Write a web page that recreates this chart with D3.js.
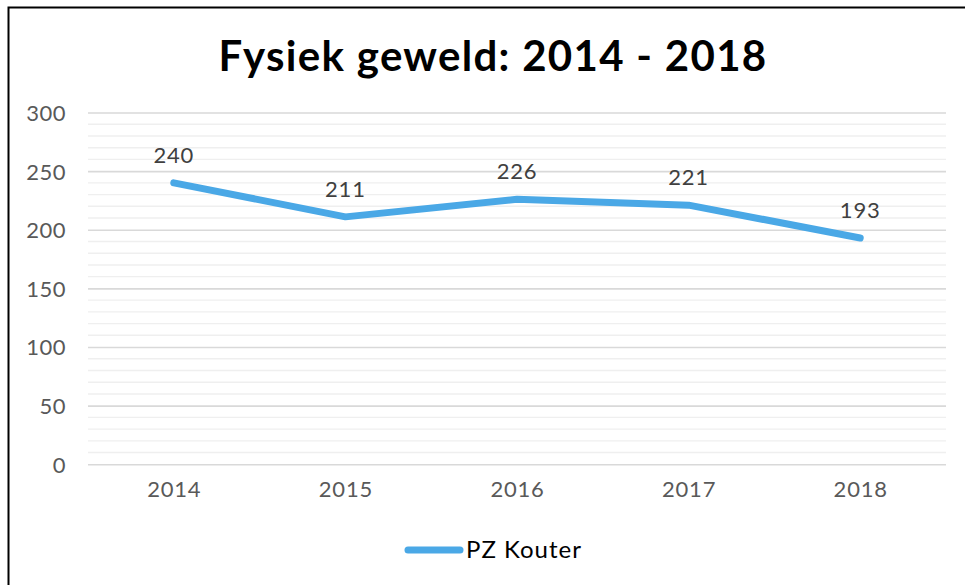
<!DOCTYPE html>
<html>
<head>
<meta charset="utf-8">
<script src="https://cdn.jsdelivr.net/npm/d3@7"></script>
<style>
  body { margin: 0; background: #fff; }
  text { font-family: "Lato", "DejaVu Sans", sans-serif; }
</style>
</head>
<body>
<div id="chart"></div>
<script>
var years = ["2014", "2015", "2016", "2017", "2018"]
var values = [240, 211, 226, 221, 193]
var yTicks = [0, 50, 100, 150, 200, 250, 300]
var seriesName = "PZ Kouter"
var title = "Fysiek geweld: 2014 - 2018"

var W = 965, H = 585
var svg = d3.select("#chart").append("svg")
    .attr("width", W)
    .attr("height", H)

// frame (left + top only are visible)
svg.append("path")
    .attr("d", "M8.5," + H + "V7.5H" + W)
    .attr("fill", "none")
    .attr("stroke", "#000")
    .attr("stroke-width", 2)

var x = d3.scalePoint().domain(years).range([88, 946]).padding(0.5)
var y = d3.scaleLinear().domain([0, 300]).range([464.3, 112.5])

// minor gridlines every 10
svg.append("g")
    .selectAll("line")
    .data(d3.range(0, 301, 10).filter(d => d % 50 != 0))
    .enter().append("line")
    .attr("x1", 88).attr("x2", 946)
    .attr("y1", d => y(d)).attr("y2", d => y(d))
    .attr("stroke", "#efefef")
    .attr("stroke-width", 1.4)

var yAxis = svg.append("g")
    .attr("transform", "translate(88,0)")
    .call(d3.axisLeft(y).tickValues(yTicks).tickSize(-858).tickPadding(22))
yAxis.select(".domain").remove()
yAxis.selectAll("line").attr("stroke", "#d9d9d9").attr("stroke-width", 1.6)
yAxis.selectAll("text")
    .attr("fill", "#595959")
    .style("font-size", "22px")
    .style("letter-spacing", "0.5px")
    .attr("dy", "0.36em")

var xAxis = svg.append("g")
    .attr("transform", "translate(0,464.3)")
    .call(d3.axisBottom(x).tickSize(0).tickPadding(17))
xAxis.select(".domain").remove()
xAxis.selectAll("text")
    .attr("fill", "#595959")
    .style("font-size", "22px")
    .style("letter-spacing", "0.8px")

svg.append("text")
    .text(title)
    .attr("x", 493)
    .attr("y", 71)
    .attr("text-anchor", "middle")
    .style("font-size", "42px")
    .style("font-weight", 700)
    .style("letter-spacing", "1.3px")
    .attr("fill", "#000")

var line = d3.line()
    .x((d, i) => x(years[i]))
    .y(d => y(d))

svg.append("path")
    .datum(values)
    .attr("d", line)
    .attr("fill", "none")
    .attr("stroke", "#4aa8e6")
    .attr("stroke-width", 7)
    .attr("stroke-linecap", "round")
    .attr("stroke-linejoin", "round")

svg.append("g")
    .selectAll("text")
    .data(values)
    .enter().append("text")
    .text(d => d)
    .attr("x", (d, i) => x(years[i]))
    .attr("y", d => y(d) - 20)
    .attr("text-anchor", "middle")
    .attr("fill", "#404040")
    .style("font-size", "22px")
    .style("letter-spacing", "0.8px")

// legend
svg.append("line")
    .attr("x1", 408).attr("x2", 460)
    .attr("y1", 550).attr("y2", 550)
    .attr("stroke", "#4aa8e6")
    .attr("stroke-width", 7)
    .attr("stroke-linecap", "round")

svg.append("text")
    .text(seriesName)
    .attr("x", 466)
    .attr("y", 558)
    .attr("fill", "#000")
    .style("font-size", "24px")
    .style("letter-spacing", "1px")
</script>
</body>
</html>
